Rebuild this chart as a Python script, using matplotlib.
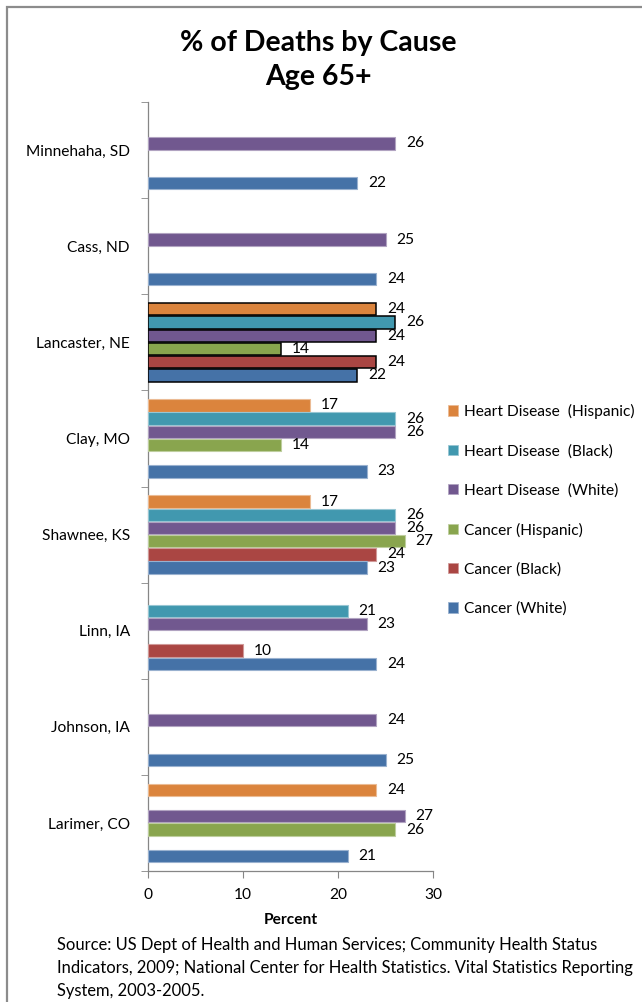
import numpy as np
import matplotlib.pyplot as plt
from matplotlib.patches import Patch, Rectangle
from matplotlib.colors import to_rgb

plt.rcParams['font.family'] = ['Lato', 'DejaVu Sans']

counties = ["Minnehaha, SD", "Cass, ND", "Lancaster, NE", "Clay, MO",
            "Shawnee, KS", "Linn, IA", "Johnson, IA", "Larimer, CO"]

series_names = ["Heart Disease  (Hispanic)", "Heart Disease  (Black)",
                "Heart Disease  (White)", "Cancer (Hispanic)",
                "Cancer (Black)", "Cancer (White)"]

nan = np.nan
heart_hispanic = [nan, nan, 24, 17, 17, nan, nan, 24]
heart_black = [nan, nan, 26, 26, 26, 21, nan, nan]
heart_white = [26, 25, 24, 26, 26, 23, 24, 27]
cancer_hispanic = [nan, nan, 14, 14, 27, nan, nan, 26]
cancer_black = [nan, nan, 24, nan, 24, 10, nan, nan]
cancer_white = [22, 24, 22, 23, 23, 24, 25, 21]

colors = ["#DB843D", "#4198AF", "#71588F", "#89A54E", "#AA4643", "#4572A7"]
highlight = "Lancaster, NE"

all_series = [heart_hispanic, heart_black, heart_white,
              cancer_hispanic, cancer_black, cancer_white]

FS = 11.2


def lighter(c, f=0.45):
    r, g, b = to_rgb(c)
    return (r + (1 - r) * f, g + (1 - g) * f, b + (1 - b) * f)


fig = plt.figure(figsize=(6.42, 10.02), dpi=100)
ax = fig.add_axes([148 / 642, 1 - 871 / 1002, (433 - 148) / 642, (871 - 102) / 1002])

slot = 0.1375
height = 0.128
ypos = np.arange(len(counties))

for k, (vals, col) in enumerate(zip(all_series, colors)):
    off = (k - 2.5) * slot
    for i, v in enumerate(vals):
        if np.isnan(v):
            continue
        if counties[i] == highlight:
            ec, lw = "black", 1.1
        else:
            ec, lw = lighter(col), 0.8
        ax.barh(ypos[i] + off, v, height=height, color=col, edgecolor=ec,
                linewidth=lw, zorder=3)
        ax.annotate(f"{v:g}", (v, ypos[i] + off), xytext=(8, 0),
                    textcoords="offset points", va="center", ha="left",
                    fontsize=FS, color="black", zorder=4)

ax.set_xlim(0, 30)
ax.set_ylim(len(counties) - 0.5, -0.5)
ax.set_xticks([0, 10, 20, 30])
ax.set_yticks(ypos)
ax.set_yticklabels(counties, fontsize=FS)
ax.set_yticks(np.arange(-0.5, len(counties)), minor=True)
ax.tick_params(axis="y", which="major", length=0, pad=13)
ax.tick_params(axis="y", which="minor", length=5, color="#868686", direction="out")
ax.tick_params(axis="x", length=5, color="#868686", direction="out", labelsize=FS, pad=7)
for s in ["top", "right"]:
    ax.spines[s].set_visible(False)
for s in ["left", "bottom"]:
    ax.spines[s].set_color("#868686")
    ax.spines[s].set_linewidth(0.9)
ax.set_xlabel("Percent", fontsize=FS, fontweight="bold", labelpad=8.5)

fig.text(318 / 642, 1 - 60 / 1002, "% of Deaths by Cause\nAge 65+", ha="center",
         va="center", fontsize=20.5, fontweight="bold", linespacing=1.42)

handles = [Patch(facecolor=c, edgecolor=lighter(c), linewidth=0.6) for c in colors]
fig.legend(handles, series_names, loc="center left",
           bbox_to_anchor=(448 / 642, 1 - 510 / 1002), frameon=False,
           fontsize=FS, handlelength=0.65, handleheight=0.65,
           handletextpad=0.4, labelspacing=1.6, borderaxespad=0, borderpad=0)

fig.text(57 / 642, 1 - 937 / 1002,
         "Source: US Dept of Health and Human Services; Community Health Status\n"
         "Indicators, 2009; National Center for Health Statistics. Vital Statistics Reporting\n"
         "System, 2003-2005.",
         ha="left", va="top", fontsize=11.9, linespacing=1.55)

# outer chart frame, cut by the image edges on the right and bottom
fig.patches.append(Rectangle((7 / 642, -0.1), 1.2, 1 - 7 / 1002 + 0.1,
                             transform=fig.transFigure, fill=False,
                             edgecolor="#8c8c8c", linewidth=1.6))

fig.savefig("out.png", dpi=100)
